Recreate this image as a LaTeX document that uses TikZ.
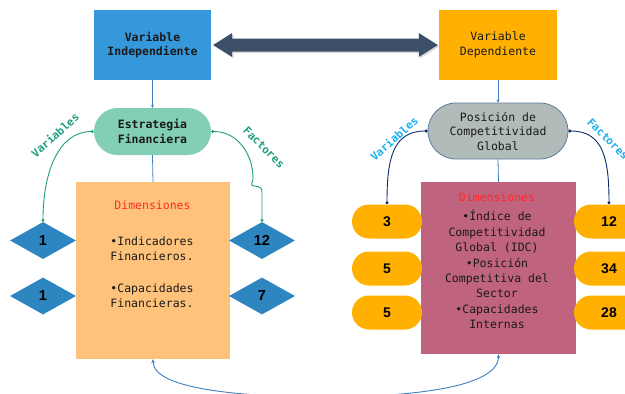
\documentclass[tikz,border=0pt]{standalone}
\usepackage{fontspec}
\setmainfont{Liberation Sans}
\newfontfamily\monof{DejaVu Sans Mono}
\usetikzlibrary{arrows.meta,shapes.geometric,shadows,calc}
\definecolor{cBlueBox}{HTML}{3498DB}
\definecolor{cOrangeBox}{HTML}{FFB000}
\definecolor{cArrow}{HTML}{3B5068}
\definecolor{cPillGreen}{HTML}{82CEB6}
\definecolor{cTeal}{HTML}{1E9E80}
\definecolor{cPeach}{HTML}{FFC27B}
\definecolor{cDiamond}{HTML}{2E86C1}
\definecolor{cPillGray}{HTML}{B1BBBA}
\definecolor{cPillBorder}{HTML}{5D7C9C}
\definecolor{cRose}{HTML}{C0637F}
\definecolor{cNavy}{HTML}{0D2B6B}
\definecolor{cCyan}{HTML}{1AB0EE}
\definecolor{cConn}{HTML}{3F7FBF}
\definecolor{cText}{HTML}{1A1A1A}
\definecolor{cRed}{HTML}{FF2A2A}
\begin{document}
\begin{tikzpicture}[x=1pt,y=-1pt,
  txt/.style={font=\monof\fontsize{11.5}{14.5}\selectfont, text=cText, align=center},
  boxnode/.style={txt, rectangle, inner sep=0pt},
  diam/.style={diamond, fill=cDiamond, minimum width=66pt, minimum height=37pt, inner sep=0pt, aspect=1.8, font=\bfseries\fontsize{14.5}{16}\selectfont, text=black},
  numpill/.style={rectangle, rounded corners=17pt, fill=cOrangeBox, minimum width=70pt, minimum height=34pt, inner sep=0pt, font=\bfseries\fontsize{14}{16}\selectfont, text=black},
  conn/.style={draw=cConn, line width=0.8pt},
  gcurve/.style={draw=cTeal, line width=0.9pt, {Circle[length=3pt]}-{Circle[length=3pt]}},
  ncurve/.style={draw=cNavy, line width=0.9pt, {Circle[length=3pt]}-{Circle[length=3pt]}},
  lab/.style={font=\monof\bfseries\fontsize{11}{12}\selectfont},
  listtxt/.style={font=\monof\fontsize{11.5}{15.4}\selectfont, text=cText}
]
\useasboundingbox (0,0) rectangle (625,394);
\clip (0,0) rectangle (625,394);

% top boxes
\node[boxnode, fill=cBlueBox, minimum width=117pt, minimum height=70pt, font=\monof\bfseries\fontsize{11.5}{14.5}\selectfont] (vi) at (152.5,45) {Variable\\Independiente};
\node[boxnode, fill=cOrangeBox, minimum width=118pt, minimum height=70pt] (vd) at (498,45) {Variable\\Dependiente};

% double arrow
\path (vi.east) ++(2,0) coordinate (aL);
\path (vd.west) ++(-1,0) coordinate (aR);
\fill[cArrow, drop shadow={opacity=0.3, shadow xshift=1.5pt, shadow yshift=-1.5pt}]
  (aL) -- ($(aL)+(19,-12)$) -- ($(aL)+(19,-6.5)$) -- ($(aR)+(-19,-6.5)$) -- ($(aR)+(-19,-12)$)
  -- (aR) -- ($(aR)+(-19,12)$) -- ($(aR)+(-19,6.5)$) -- ($(aL)+(19,6.5)$) -- ($(aL)+(19,12)$) -- cycle;

% pills
\node[boxnode, fill=cPillGreen, rounded corners=23.5pt, minimum width=117pt, minimum height=47pt, font=\monof\bfseries\fontsize{11.5}{14.5}\selectfont] (ef) at (152.5,131.5) {Estrategia\\Financiera};
\node[boxnode, fill=cPillGray, draw=cPillBorder, line width=0.8pt, rounded corners=28pt, minimum width=140pt, minimum height=56pt] (pg) at (498,131) {Posición de\\Competitividad\\Global};

% dimension boxes
\node[rectangle, fill=cPeach, minimum width=154pt, minimum height=177pt, inner sep=0pt] (ldim) at (153,270.5) {};
\node[rectangle, fill=cRose, minimum width=155pt, minimum height=172pt, inner sep=0pt] (rdim) at (498.5,268) {};

% connectors top-down
\draw[conn, -{Stealth[length=3pt,width=3pt]}] (vi.south) -- (ef.north);
\draw[conn] (ef.south) -- (ldim.north);
\draw[conn, -{Stealth[length=3pt,width=3pt]}] (vd.south) -- (pg.north);
\draw[conn] (pg.south) -- (rdim.north);

% left box text
\node[txt, text=cRed] (ldt) at (152.5,205) {Dimensiones};
\node[listtxt, align=left] (li1) at (152,248.5) {•Indicadores\\Financieros.};
\node[listtxt, align=left] (li2) at (152,295.5) {•Capacidades\\Financieras.};

% right box text
\node[txt, text=cRed] (rdt) at (497,197.7) {Dimensiones};
\node[listtxt, align=center] (rl) at (497,269.5) {•Índice de\\Competitividad\\Global (IDC)\\•Posición\\Competitiva del\\Sector\\•Capacidades\\Internas};

% diamonds
\node[diam] (d1) at (43,240.5) {1};
\node[diam] (d2) at (43,296) {1};
\node[diam] (d3) at (262,240.5) {12};
\node[diam] (d4) at (262,296) {7};

% number pills
\node[numpill] (p1) at (387,221.5) {3};
\node[numpill] (p2) at (387,268.5) {5};
\node[numpill] (p3) at (387,312.5) {5};
\node[numpill] (q1) at (609,221.5) {12};
\node[numpill] (q2) at (609,268.5) {34};
\node[numpill] (q3) at (609,312.5) {28};

% curves left
\draw[gcurve] (ef.west) .. controls +(-35,0) and +(0,-50) .. (d1.north);
\draw[gcurve] (ef.east) .. controls +(27,0) and +(0,-23) .. (253,178)
  .. controls (253,183) and (250,184) .. (252,185.5)
  .. controls (256,187) and (262,185) .. (262,192) -- (d3.north);
\draw[ncurve] (pg.west) .. controls +(-35,0) and +(0,-45) .. (p1.north);
\draw[ncurve] (pg.east) .. controls +(35,0) and +(0,-45) .. (q1.north);

% labels
\node[lab, text=cTeal, rotate=42] (lv1) at (55,135) {Variables};
\node[lab, text=cTeal, rotate=-45] (lf1) at (264,147.5) {Factores};
\node[lab, text=cCyan, rotate=42] (lv2) at (394,138.5) {Variables};
\node[lab, text=cCyan, rotate=-45] (lf2) at (608,139) {Factores};

% bottom curve
\coordinate (bm) at (325,397);
\draw[conn, line width=0.9pt, {Stealth[length=4pt,width=3.5pt]}-{Stealth[length=4pt,width=3.5pt]}]
  (ldim.south) .. controls +(0,32) and +(-70,0) .. (bm)
  .. controls +(70,0) and +(0,36) .. (rdim.south);
\end{tikzpicture}
\end{document}
